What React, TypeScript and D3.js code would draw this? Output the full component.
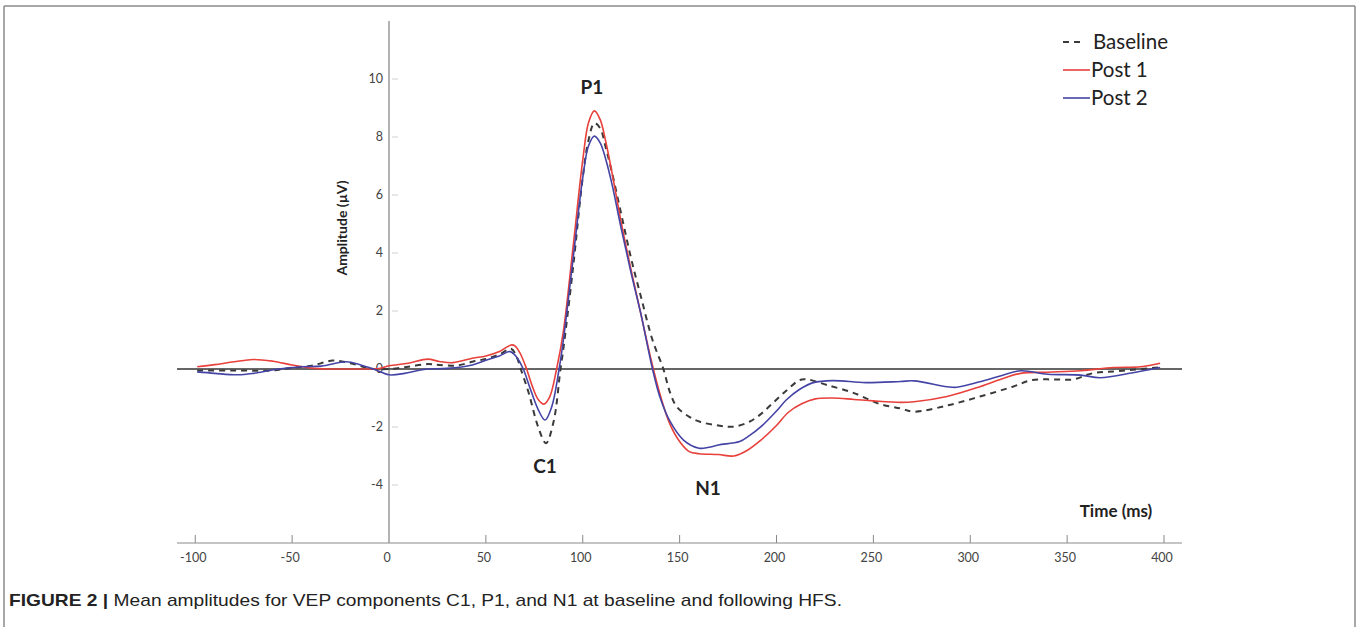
import React from "react";
import * as d3 from "d3";

const xTicks = [-100, -50, 0, 50, 100, 150, 200, 250, 300, 350, 400];
const yTicks = [-4, -2, 2, 4, 6, 8, 10];

const baselineT = [-99, -80, -60, -50, -40, -29, -20, -10, 0, 10, 20, 26, 35, 43, 50, 57, 63, 66, 68, 72, 77, 81, 85, 88.5, 90, 95, 100, 103, 106, 109, 112, 115, 120, 125, 130, 136, 141.6, 145, 148.5, 155, 160.5, 170, 177.5, 186, 192, 198, 205, 212, 216, 226, 240, 253, 264, 271, 288, 305, 322, 332, 343, 353, 363, 377, 398];
const baselineV = [-0.05, -0.05, -0.05, 0.05, 0.11, 0.29, 0.2, 0.02, 0.0, 0.08, 0.17, 0.14, 0.12, 0.25, 0.35, 0.5, 0.7, 0.4, 0.0, -0.8, -2.0, -2.56, -1.8, 0.0, 0.7, 3.5, 6.6, 7.9, 8.48, 8.3, 7.6, 6.8, 5.3, 3.8, 2.5, 1.0, 0.0, -0.8, -1.3, -1.65, -1.82, -1.95, -1.99, -1.82, -1.55, -1.18, -0.75, -0.38, -0.36, -0.55, -0.83, -1.2, -1.36, -1.47, -1.26, -0.95, -0.61, -0.38, -0.36, -0.36, -0.15, -0.07, 0.06];

const post1T = [-99, -90, -80, -70, -60, -50, -40, -30, -20, -10, -5, 0, 10, 20, 26, 33, 43, 50, 57, 63, 65, 68, 71, 74, 77, 80, 83, 86.5, 90, 95, 100, 103, 106, 109, 112, 115, 120, 125, 130, 135, 140, 145, 150, 155, 160, 170, 178, 185, 192, 200, 206, 213, 220, 229, 240, 250, 264, 271, 288, 305, 318, 326, 340, 357, 374, 388, 398];
const post1V = [0.08, 0.15, 0.25, 0.33, 0.27, 0.14, 0.03, 0.0, 0.0, 0.0, 0.02, 0.11, 0.2, 0.34, 0.26, 0.22, 0.37, 0.45, 0.6, 0.83, 0.8, 0.5, 0.0, -0.6, -1.05, -1.21, -0.95, 0.0, 1.3, 4.2, 7.2, 8.5, 8.9, 8.6, 7.8, 6.8, 5.0, 3.4, 1.9, 0.4, -0.9, -1.9, -2.5, -2.85, -2.92, -2.95, -3.0, -2.8, -2.45, -1.95, -1.5, -1.2, -1.03, -1.0, -1.05, -1.1, -1.15, -1.13, -0.95, -0.61, -0.3, -0.15, -0.11, -0.06, 0.05, 0.08, 0.2];

const post2T = [-99, -90, -78, -70, -57, -45, -35, -22, -15, -8, 0, 8, 15, 20, 30, 43, 50, 57, 62.5, 66, 69.3, 73, 77, 80.5, 84, 87.8, 90, 95, 100, 103, 106, 109, 112, 115, 120, 125, 130, 136, 140, 145, 152, 160, 165, 170, 181, 186, 192, 200, 205, 212, 219, 229, 246, 264, 271, 288, 293, 305, 315, 326, 340, 357, 367, 384, 398];
const post2V = [-0.1, -0.15, -0.2, -0.15, 0.0, 0.08, 0.1, 0.25, 0.15, 0.0, -0.2, -0.15, -0.05, 0.0, 0.02, 0.14, 0.3, 0.45, 0.6, 0.4, 0.0, -0.7, -1.4, -1.76, -1.3, 0.0, 1.0, 3.8, 6.6, 7.7, 8.03, 7.8, 7.2, 6.4, 4.8, 3.3, 1.9, 0.0, -1.0, -1.8, -2.45, -2.73, -2.7, -2.62, -2.5, -2.3, -1.99, -1.45, -1.07, -0.7, -0.47, -0.4, -0.47, -0.43, -0.41, -0.61, -0.63, -0.44, -0.25, -0.06, -0.18, -0.21, -0.3, -0.13, 0.05];

const seriesNames = ["Baseline", "Post 1", "Post 2"];
const seriesColors = ["#3a3a3a", "#e8403a", "#4444a6"];

const chartFont = "Lato, 'Open Sans', sans-serif";

export default function App() {
  const x = d3.scaleLinear().domain([0, 400]).range([389, 1164]);
  const y = d3.scaleLinear().domain([-6, 12]).range([543, 21]);
  const line = d3
    .line<[number, number]>()
    .x((d) => x(d[0]))
    .y((d) => y(d[1]))
    .curve(d3.curveCatmullRom.alpha(0.5));

  const zip = (t: number[], v: number[]) => t.map((ti, i) => [ti, v[i]] as [number, number]);
  const series = [zip(baselineT, baselineV), zip(post1T, post1V), zip(post2T, post2V)];

  const legendY = [42, 70, 98];

  return (
    <svg
      width={1357}
      height={627}
      style={{ position: "absolute", left: 0, top: 0, display: "block", background: "#fff" }}
    >
      {/* frame */}
      <line x1={4} y1={6} x2={1355} y2={6} stroke="#8a8a8a" strokeWidth={1.5} />
      <line x1={4} y1={6} x2={4} y2={627} stroke="#8a8a8a" strokeWidth={1.5} />
      <line x1={1355} y1={6} x2={1355} y2={627} stroke="#8a8a8a" strokeWidth={1.5} />

      {/* axes */}
      <line x1={177} x2={1182} y1={y(-6)} y2={y(-6)} stroke="#b0b0b0" strokeWidth={1.5} />
      <line x1={x(0)} x2={x(0)} y1={y(12)} y2={y(-6)} stroke="#9a9a9a" strokeWidth={1.5} />
      {xTicks.map((t) => (
        <g key={"xt" + t}>
          {t !== 0 && (
            <line x1={x(t)} x2={x(t)} y1={y(-6)} y2={y(-6) - 8} stroke="#888" strokeWidth={1} />
          )}
          <text
            x={x(t) - 2}
            y={y(-6) + 19}
            textAnchor="middle"
            fontFamily={chartFont}
            fontSize={12.5}
            fill="#444"
          >
            {t}
          </text>
        </g>
      ))}
      {[...yTicks, 0].map((v) => (
        <g key={"yt" + v}>
          <line x1={x(0) + 3} x2={x(0) + 9} y1={y(v)} y2={y(v)} stroke="#d0d0d0" strokeWidth={1} />
          <text
            x={x(0) - 6}
            y={y(v)}
            dy="0.35em"
            textAnchor="end"
            fontFamily={chartFont}
            fontSize={12.5}
            fill="#444"
          >
            {v}
          </text>
        </g>
      ))}

      {/* zero line */}
      <line x1={177} x2={1182} y1={y(0)} y2={y(0)} stroke="#333" strokeWidth={1.5} />

      {/* series */}
      {series.map((s, i) => (
        <path
          key={seriesNames[i]}
          d={line(s) || ""}
          fill="none"
          stroke={seriesColors[i]}
          strokeWidth={i === 0 ? 2 : 1.6}
          strokeDasharray={i === 0 ? "6,5" : undefined}
        />
      ))}

      {/* axis titles */}
      <text
        transform={`translate(347, 228) rotate(-90)`}
        textAnchor="middle"
        fontFamily={chartFont}
        fontWeight="bold"
        fontSize={14}
        fill="#222"
      >
        Amplitude (µV)
      </text>
      <text x={1116} y={517} textAnchor="middle" fontFamily={chartFont} fontWeight="bold" fontSize={17} fill="#222">
        Time (ms)
      </text>

      {/* component labels */}
      <text x={592} y={94} textAnchor="middle" fontFamily={chartFont} fontWeight="bold" fontSize={19} fill="#222">
        P1
      </text>
      <text x={545} y={473} textAnchor="middle" fontFamily={chartFont} fontWeight="bold" fontSize={19} fill="#222">
        C1
      </text>
      <text x={708} y={495} textAnchor="middle" fontFamily={chartFont} fontWeight="bold" fontSize={19} fill="#222">
        N1
      </text>

      {/* legend */}
      {seriesNames.map((n, i) => (
        <g key={"lg" + n}>
          <line
            x1={1063}
            x2={i === 0 ? 1084 : 1090}
            y1={legendY[i]}
            y2={legendY[i]}
            stroke={seriesColors[i]}
            strokeWidth={i === 0 ? 2 : 1.6}
            strokeDasharray={i === 0 ? "6,5" : undefined}
          />
          <text
            x={i === 0 ? 1093 : 1091}
            y={legendY[i]}
            dy="0.35em"
            fontFamily={chartFont}
            fontSize={20.5}
            fill="#222"
          >
            {n}
          </text>
        </g>
      ))}

      {/* caption */}
      <text
        x={9}
        y={606}
        fontFamily="'Liberation Sans Narrow', 'Liberation Sans', Arial, sans-serif"
        fontSize={17}
        fill="#222"
        textLength={833}
        lengthAdjust="spacingAndGlyphs"
      >
        <tspan fontWeight="bold">FIGURE 2 | </tspan>
        <tspan>Mean amplitudes for VEP components C1, P1, and N1 at baseline and following HFS.</tspan>
      </text>
    </svg>
  );
}
